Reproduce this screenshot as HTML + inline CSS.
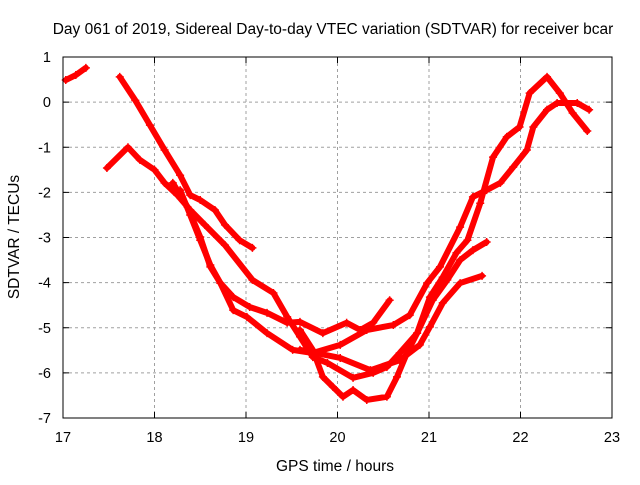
<!DOCTYPE html>
<html><head><meta charset="utf-8"><style>
body{margin:0;background:#fff;}
svg text{font-family:"Liberation Sans",sans-serif;fill:#000;}
</style></head><body>
<svg id="chart" width="640" height="480" xmlns="http://www.w3.org/2000/svg">
<text x="333" y="34" font-size="15.5" text-anchor="middle">Day 061 of 2019, Sidereal Day-to-day VTEC variation (SDTVAR) for receiver bcar</text>
<text x="335" y="471" font-size="15.5" text-anchor="middle">GPS time / hours</text>
<text transform="translate(19,237) rotate(-90)" font-size="15.5" text-anchor="middle">SDTVAR / TECUs</text>
<g id="grid"></g><g id="series"></g><g id="axes"></g>
</svg>
<script>
const xTicks=[17,18,19,20,21,22,23];
const yTicks=[1,0,-1,-2,-3,-4,-5,-6,-7];
const seriesA=[[17.03,0.49],[17.14,0.6],[17.25,0.76]];
const seriesB=[[17.62,0.56],[17.79,0.04],[17.95,-0.51],[18.11,-1.06],[18.28,-1.62],[18.39,-2.06],[18.5,-2.17],[18.66,-2.39],[18.77,-2.72],[18.93,-3.06],[19.07,-3.23]];
const seriesC=[[17.48,-1.46],[17.71,-1.0],[17.84,-1.28],[18.0,-1.5],[18.11,-1.79],[18.25,-2.06],[18.39,-2.39],[18.55,-2.72],[18.77,-3.17],[19.07,-3.94],[19.3,-4.23],[19.45,-4.76],[19.59,-5.2],[19.73,-5.65],[19.89,-5.78],[20.17,-6.11],[20.39,-6.0],[20.54,-5.87],[20.68,-5.56],[20.87,-5.12],[21.01,-4.32],[21.15,-3.88],[21.3,-3.34],[21.42,-3.06],[21.56,-2.24],[21.7,-1.22],[21.85,-0.77],[21.99,-0.55],[22.1,0.2],[22.29,0.56],[22.43,0.2],[22.57,-0.24],[22.73,-0.64]];
const seriesD=[[18.2,-1.79],[18.36,-2.32],[18.5,-2.99],[18.61,-3.65],[18.72,-4.01],[18.86,-4.61],[19.01,-4.76],[19.23,-5.12],[19.51,-5.49],[19.73,-5.56],[20.03,-5.38],[20.32,-5.05],[20.61,-4.94],[20.79,-4.72],[20.98,-4.01],[21.12,-3.65],[21.34,-2.77],[21.48,-2.1],[21.63,-1.95],[21.78,-1.79],[21.92,-1.44],[22.07,-1.06],[22.14,-0.55],[22.29,-0.17],[22.4,-0.02],[22.62,-0.02],[22.75,-0.17]];
const seriesE=[[18.28,-1.95],[18.39,-2.5],[18.5,-3.06],[18.61,-3.61],[18.72,-4.01],[18.86,-4.32],[19.04,-4.54],[19.23,-4.67],[19.45,-4.89],[19.59,-4.87],[19.84,-5.12],[20.1,-4.89],[20.25,-5.05],[20.39,-4.89],[20.57,-4.39]];
const seriesF=[[19.59,-5.05],[19.73,-5.49],[19.84,-6.09],[19.95,-6.31],[20.06,-6.53],[20.17,-6.38],[20.32,-6.6],[20.54,-6.53],[20.65,-6.09],[20.76,-5.56],[20.87,-5.12],[21.04,-4.39],[21.2,-3.94],[21.34,-3.5],[21.48,-3.28],[21.63,-3.1]];
const seriesG=[[19.59,-5.49],[20.03,-5.67],[20.36,-5.94],[20.68,-5.72],[20.9,-5.38],[21.01,-4.98],[21.15,-4.45],[21.34,-4.01],[21.58,-3.85]];
const allSeries=[seriesA,seriesB,seriesC,seriesD,seriesE,seriesF,seriesG];

const L=63,R=612,T=57,B=418,X0=17,X1=23,Y0=-7,Y1=1;
const sx=v=>L+(v-X0)/(X1-X0)*(R-L);
const sy=v=>B-(v-Y0)/(Y1-Y0)*(B-T);
const NS="http://www.w3.org/2000/svg";
function mk(tag,attrs,parent){const e=document.createElementNS(NS,tag);for(const k in attrs)e.setAttribute(k,attrs[k]);parent.appendChild(e);return e;}
const grid=document.getElementById('grid'),axes=document.getElementById('axes'),ser=document.getElementById('series');
xTicks.forEach(t=>{
  const x=sx(t);
  if(t>X0&&t<X1){const g=mk('line',{x1:x,x2:x,y1:T,y2:B,stroke:'#a0a0a0','stroke-dasharray':'3,3'},grid);
  
  }
  const tk=mk('line',{x1:x,x2:x,y1:B,y2:B-6,stroke:'#000'},axes);
  
  
  const tk2=mk('line',{x1:x,x2:x,y1:T,y2:T+6,stroke:'#000'},axes);
  
  
  const lb=mk('text',{x:x,y:B+24,'font-size':14.5,'text-anchor':'middle'},axes);lb.textContent=t;
  
  
});
yTicks.forEach(t=>{
  const y=sy(t);
  if(t>Y0&&t<Y1){const g=mk('line',{x1:L,x2:R,y1:y,y2:y,stroke:'#a0a0a0','stroke-dasharray':'3,3'},grid);
  
  }
  const tk=mk('line',{x1:L,x2:L+6,y1:y,y2:y,stroke:'#000'},axes);
  
  
  const tk2=mk('line',{x1:R,x2:R-6,y1:y,y2:y,stroke:'#000'},axes);
  
  
  const lb=mk('text',{x:L-12,y:y+5,'font-size':14.5,'text-anchor':'end'},axes);lb.textContent=t;
  
  
});
const frame=mk('rect',{x:L,y:T,width:R-L,height:B-T,fill:'none',stroke:'#000'},axes);


allSeries.forEach((s,i)=>{
  const pts=s.map(p=>sx(p[0])+','+sy(p[1])).join(' ');
  const pl=mk('polyline',{points:pts,fill:'none',stroke:'#ff0000','stroke-width':6,'stroke-linejoin':'round','stroke-linecap':'round'},ser);
  
  
  s.forEach(p=>{
    const x=sx(p[0]),y=sy(p[1]);
    const m=mk('path',{d:`M${x-4},${y}H${x+4}M${x},${y-4}V${y+4}`,stroke:'#ff0000','stroke-width':1.5},ser);
    
    
  });
});
</script>
</body></html>
